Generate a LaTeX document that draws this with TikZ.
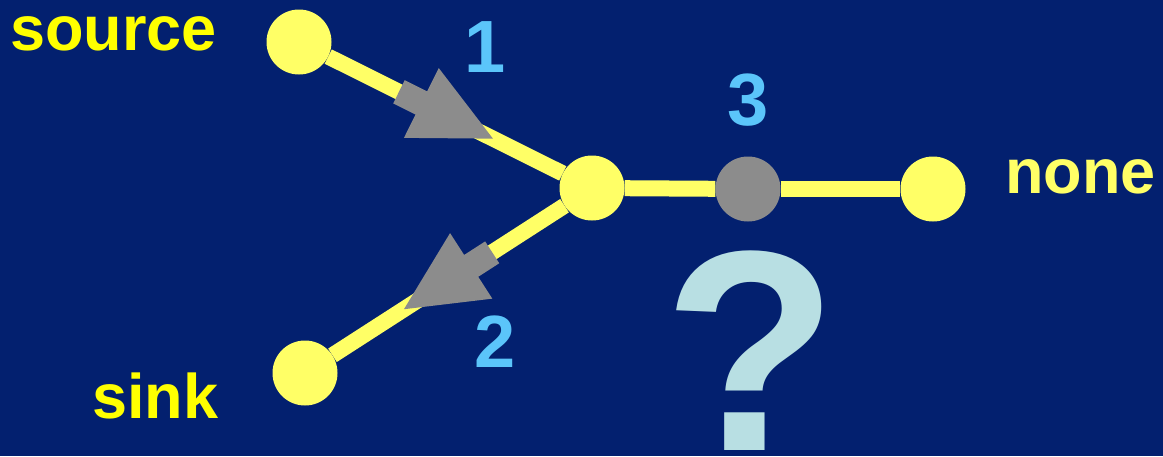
\documentclass[tikz,border=0pt]{standalone}
\usepackage{fontspec}
\setmainfont{Liberation Sans}
\usepackage{tikz}
\definecolor{bgblue}{HTML}{03206F}
\definecolor{pale}{HTML}{FFFF66}
\definecolor{word}{HTML}{FFFF00}
\definecolor{ashen}{HTML}{8C8C8C}
\definecolor{sky}{HTML}{5BC5FA}
\definecolor{query}{HTML}{B8DFE3}

\tikzset{
    blockarrow/.pic={
        \fill[ashen] (-52,-13) -- (-27,-13) -- (-27,-39) -- (53,0)
            -- (-27,39) -- (-27,13) -- (-52,13) -- cycle;
    }
}

\begin{document}
\begin{tikzpicture}[
    x=1pt, y=-1pt,
    dot/.style={circle, fill=pale, minimum size=65pt, inner sep=0},
    wire/.style={line width=16pt, color=pale},
    marker/.style={sloped, allow upside down, pos=0.5},
    wordlabel/.style={font=\fontsize{63}{70}\selectfont\bfseries, text=word, inner sep=0},
    number/.style={font=\fontsize{74}{80}\selectfont\bfseries, text=sky, inner sep=0}
]
    \fill[bgblue] (0,0) rectangle (1163,456);
    \useasboundingbox (0,0) rectangle (1163,456);

    \node[dot] (src) at (299,42) {};
    \node[dot] (jn) at (592,188) {};
    \node[dot, fill=ashen] (mid) at (748,189) {};
    \node[dot] (nonept) at (933,189) {};
    \node[dot] (snk) at (305,373) {};

    \draw[wire] (src) -- pic[marker] {blockarrow} (jn);
    \draw[wire] (jn) -- pic[marker] {blockarrow} (snk);
    \draw[wire] (jn) -- (mid);
    \draw[wire] (mid) -- (nonept);

    \node[wordlabel, anchor=base west] (srclabel) at (10,50) {source};
    \node[wordlabel, anchor=base west] (snklabel) at (92,418) {sink};
    \node[wordlabel, anchor=base west, text=pale] (nonelabel) at (1005,193) {none};

    \node[number, anchor=base] (one) at (485,72) {1};
    \node[number, anchor=base] (two) at (495,367) {2};
    \node[number, anchor=base] (three) at (748,125) {3};

    \node[font=\fontsize{286}{296}\selectfont\bfseries, text=query, inner sep=0, anchor=base] (ask) at (751,450) {?};
\end{tikzpicture}
\end{document}
